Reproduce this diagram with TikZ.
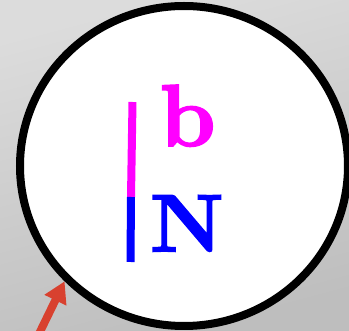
\documentclass[tikz,border=0pt]{standalone}
\usepackage{fontspec}
\newfontfamily\heavyfont{lmroman10-bold.otf}[FakeBold=1.8]
\usetikzlibrary{arrows.meta,shapes.geometric}
\definecolor{bgtop}{HTML}{DCDCDC}
\definecolor{bgbot}{HTML}{BEBEBE}
\definecolor{arrowred}{HTML}{D8412F}
\definecolor{mag}{HTML}{FF00FF}
\definecolor{blu}{HTML}{0000FF}
\begin{document}
\begin{tikzpicture}[x=1pt,y=-1pt,
  ring/.style={ellipse, draw=black, line width=8pt, fill=white, inner sep=0pt,
    minimum width=328pt, minimum height=320pt},
  barline/.style={line width=8pt, line cap=butt},
  letter/.style={inner sep=0pt, outer sep=0pt},
  pointer/.style={arrowred, line width=8pt, -{Triangle[length=21pt,width=23pt]}}]
\useasboundingbox (0,0) rectangle (349,331);
\shade[top color=bgtop, bottom color=bgbot, shading angle=15] (0,0) rectangle (349,331);
\node[ring] (circ) at (184,166) {};
\coordinate (ltop) at (132.5,102);
\coordinate (lmid) at (131,197);
\coordinate (lbot) at (130.5,262);
\draw[barline, mag] (ltop) -- (lmid);
\draw[barline, blu] (lmid) -- (lbot);
\node[letter, text=mag, anchor=base west, font=\heavyfont\fontsize{88}{88}\selectfont] (b) at (159.5,146) {b};
\node[letter, text=blu, anchor=base west, font=\heavyfont\fontsize{82}{82}\selectfont] (N) at (150,251.5) {N};
\coordinate (astart) at (36,340);
\draw[pointer] (astart) -- (circ.224);
\end{tikzpicture}
\end{document}
